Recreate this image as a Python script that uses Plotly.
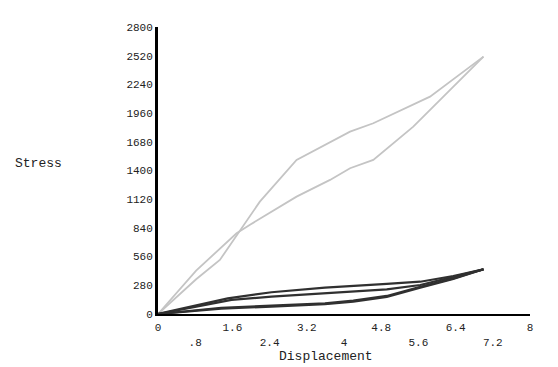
import plotly.graph_objects as go

# Gray loop (upper stress response)
gray_load_x = [0, 0.82, 1.33, 2.19, 2.98, 4.13, 4.63, 5.85, 7.0]
gray_load_y = [0, 339, 527, 1096, 1503, 1779, 1861, 2121, 2511]
gray_unload_x = [7.0, 6.43, 5.49, 4.63, 4.13, 3.70, 2.98, 1.97, 1.69, 0.82, 0]
gray_unload_y = [2511, 2252, 1828, 1503, 1422, 1308, 1145, 869, 788, 423, 0]

# Dark loops (lower stress response)
dark_up1_x = [0, 1.07, 1.50, 2.44, 3.59, 4.92, 5.64, 6.35, 7.0]
dark_up1_y = [0, 104, 153, 212, 257, 293, 315, 371, 436]
dark_up2_x = [0, 1.07, 1.58, 2.44, 3.59, 4.92, 5.64, 6.35, 7.0]
dark_up2_y = [0, 95, 137, 169, 202, 241, 283, 360, 436]
dark_low1_x = [0, 1.36, 2.44, 3.59, 4.20, 4.92, 5.64, 6.35, 7.0]
dark_low1_y = [0, 61, 81, 104, 130, 176, 266, 348, 436]
dark_low2_x = [0, 1.36, 2.44, 3.59, 4.20, 4.92, 5.64, 6.35, 7.0]
dark_low2_y = [0, 52, 72, 95, 120, 166, 256, 342, 436]

x_tick_vals = [0, 0.8, 1.6, 2.4, 3.2, 4.0, 4.8, 5.6, 6.4, 7.2, 8.0]
x_tick_text = ["0", "<br>.8", "1.6", "<br>2.4", "3.2", "<br>4", "4.8", "<br>5.6", "6.4", "<br>7.2", "8"]
y_tick_vals = [0, 280, 560, 840, 1120, 1400, 1680, 1960, 2240, 2520, 2800]
y_tick_text = ["0", "280", "560", "840", "1120", "1400", "1680", "1960", "2240", "2520", "2800"]

GRAY = "#c4c4c4"
DARK = "#303030"

fig = go.Figure()
fig.add_trace(go.Scatter(x=gray_load_x, y=gray_load_y, mode="lines", line=dict(color=GRAY, width=1.8)))
fig.add_trace(go.Scatter(x=gray_unload_x, y=gray_unload_y, mode="lines", line=dict(color=GRAY, width=1.8)))
for xs, ys in [(dark_up1_x, dark_up1_y), (dark_up2_x, dark_up2_y),
               (dark_low1_x, dark_low1_y), (dark_low2_x, dark_low2_y)]:
    fig.add_trace(go.Scatter(x=xs, y=ys, mode="lines", line=dict(color=DARK, width=2.2)))

# page body has an 8px default margin, so the figure is 8px smaller and margins shifted
OFF = 8
W, H = 558 - OFF, 367 - OFF
L, R, T, B = 158 - OFF, 28, 27 - OFF, 53
font = "Liberation Mono, Courier New, monospace"
fig.update_layout(
    width=W, height=H,
    margin=dict(l=L, r=R, t=T, b=B),
    paper_bgcolor="white", plot_bgcolor="white",
    showlegend=False,
    font=dict(family=font, size=11, color="#222"),
    xaxis=dict(range=[0, 8], tickvals=x_tick_vals, ticktext=x_tick_text,
               showgrid=False, zeroline=False, showline=True, linecolor="black", linewidth=2,
               ticks="outside", ticklen=2, tickcolor="white", tickfont=dict(size=11)),
    yaxis=dict(range=[0, 2800], tickvals=y_tick_vals, ticktext=y_tick_text,
               showgrid=False, zeroline=False, showline=True, linecolor="black", linewidth=3,
               ticks="", tickfont=dict(size=11)),
    annotations=[
        dict(text="Displacement", xref="paper", yref="paper", x=(326 - 158) / (530 - 158), y=-(356 - 314) / (314 - 27),
             showarrow=False, xanchor="center", yanchor="middle", font=dict(size=13, family=font)),
        dict(text="Stress", xref="paper", yref="paper", x=(38 - 158) / (530 - 158), y=(314 - 163) / (314 - 27),
             showarrow=False, xanchor="center", yanchor="middle", font=dict(size=13, family=font)),
    ],
)
fig.write_html("out.html")
